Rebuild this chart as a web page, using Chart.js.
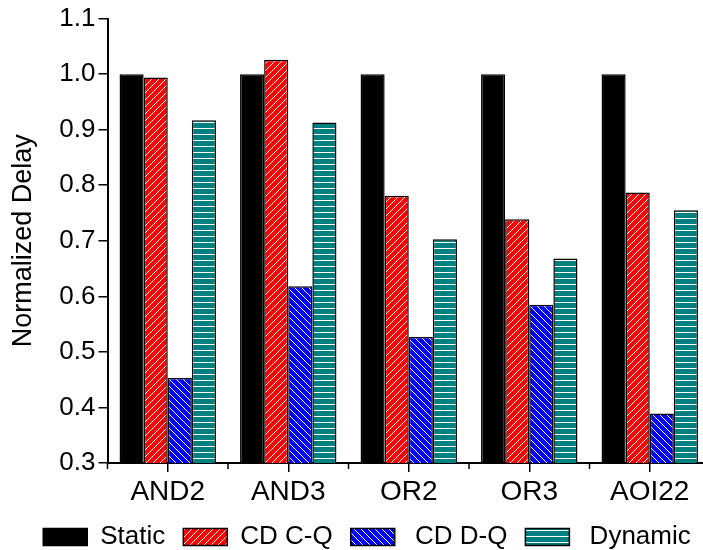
<!DOCTYPE html>
<html>
<head>
<meta charset="utf-8">
<script src="https://cdn.jsdelivr.net/npm/chart.js@4"></script>
<style>
  html, body { margin: 0; padding: 0; overflow: hidden; background: #fff; }
  #wrap { width: 703px; height: 550px; overflow: hidden; }
</style>
</head>
<body>
<div id="wrap"><canvas id="chart" width="710" height="560"></canvas></div>
<script>
var gates = ['AND2', 'AND3', 'OR2', 'OR3', 'AOI22'];
var staticDelay = [1.0, 1.0, 1.0, 1.0, 1.0];
var cdCQ = [0.994, 1.026, 0.781, 0.739, 0.787];
var cdDQ = [0.453, 0.618, 0.527, 0.585, 0.389];
var dynamicDelay = [0.917, 0.913, 0.703, 0.668, 0.755];
var seriesNames = ['Static', 'CD C-Q', ' CD D-Q', ' Dynamic'];

function makePattern(bg, kind) {
    var c = document.createElement('canvas');
    var s = kind === 'h' ? 6 : 7;
    c.width = s;
    c.height = s;
    var g = c.getContext('2d');
    g.fillStyle = bg;
    g.fillRect(0, 0, s, s);
    g.strokeStyle = '#fff';
    g.fillStyle = '#fff';
    g.lineWidth = 1;
    if (kind === 'h') {
        g.fillRect(0, 2, s, 1);
    } else {
        g.beginPath();
        for (var k = -1; k <= 1; k++) {
            if (kind === 'up') {
                g.moveTo(k * s, s);
                g.lineTo(k * s + s, 0);
            } else {
                g.moveTo(k * s, 0);
                g.lineTo(k * s + s, s);
            }
        }
        g.stroke();
    }
    return g.createPattern(c, 'repeat');
}

// short ticks between the categories
var minorTicks = {
    id: 'minorTicks',
    afterDraw: function(chart) {
        var xs = chart.scales.x;
        var ctx = chart.ctx;
        var half = (xs.getPixelForValue(1) - xs.getPixelForValue(0)) / 2;
        ctx.save();
        ctx.strokeStyle = '#000';
        ctx.lineWidth = 1.5;
        ctx.beginPath();
        for (var i = 0; i <= gates.length; i++) {
            var x = xs.getPixelForValue(i) - half;
            ctx.moveTo(x, xs.top);
            ctx.lineTo(x, xs.top + 6);
        }
        ctx.stroke();
        ctx.restore();
    }
};

Chart.defaults.font.family = "'Liberation Sans', Arial, sans-serif";
Chart.defaults.color = '#000';

var ctx = document.getElementById('chart').getContext('2d');
var chart = new Chart(ctx, {
    type: 'bar',
    data: {
        labels: gates,
        datasets: [
            { label: seriesNames[0], data: staticDelay, backgroundColor: '#000', borderColor: '#000', borderWidth: 1.5 },
            { label: seriesNames[1], data: cdCQ, backgroundColor: makePattern('#ff0000', 'up'), borderColor: '#000', borderWidth: 1.5 },
            { label: seriesNames[2], data: cdDQ, backgroundColor: makePattern('#0000ff', 'down'), borderColor: '#000', borderWidth: 1.5 },
            { label: seriesNames[3], data: dynamicDelay, backgroundColor: makePattern('#008080', 'h'), borderColor: '#000', borderWidth: 1.5 }
        ]
    },
    options: {
        responsive: false,
        animation: false,
        devicePixelRatio: 1,
        layout: { padding: { left: 24, right: 0, top: 18, bottom: 0 } },
        datasets: { bar: { categoryPercentage: 0.8, barPercentage: 1.0 } },
        scales: {
            x: {
                afterFit: function(scale) { scale.height = 43; },
                grid: { display: true, offset: false, drawOnChartArea: false, drawTicks: true, tickLength: 9, color: '#000', lineWidth: 1.5 },
                border: { display: true, color: '#000', width: 2 },
                ticks: { font: { size: 28 }, padding: 3, autoSkip: false, maxRotation: 0 }
            },
            y: {
                min: 0.3,
                max: 1.1,
                afterFit: function(scale) { scale.width = 83.5; },
                grid: { display: true, drawOnChartArea: false, drawTicks: true, tickLength: 9, color: '#000', lineWidth: 1.5 },
                border: { display: true, color: '#000', width: 2 },
                ticks: {
                    stepSize: 0.1,
                    padding: 3,
                    font: { size: 26 },
                    callback: function(v) { return v.toFixed(1); }
                },
                title: {
                    display: true,
                    text: 'Normalized Delay',
                    font: { size: 27 },
                    padding: { top: -17, bottom: 0 }
                }
            }
        },
        plugins: {
            legend: {
                position: 'bottom',
                labels: { boxWidth: 44, boxHeight: 17, padding: 18, font: { size: 26 } }
            },
            tooltip: { enabled: false }
        }
    },
    plugins: [minorTicks]
});
console.log('Chart created.');
</script>
</body>
</html>
